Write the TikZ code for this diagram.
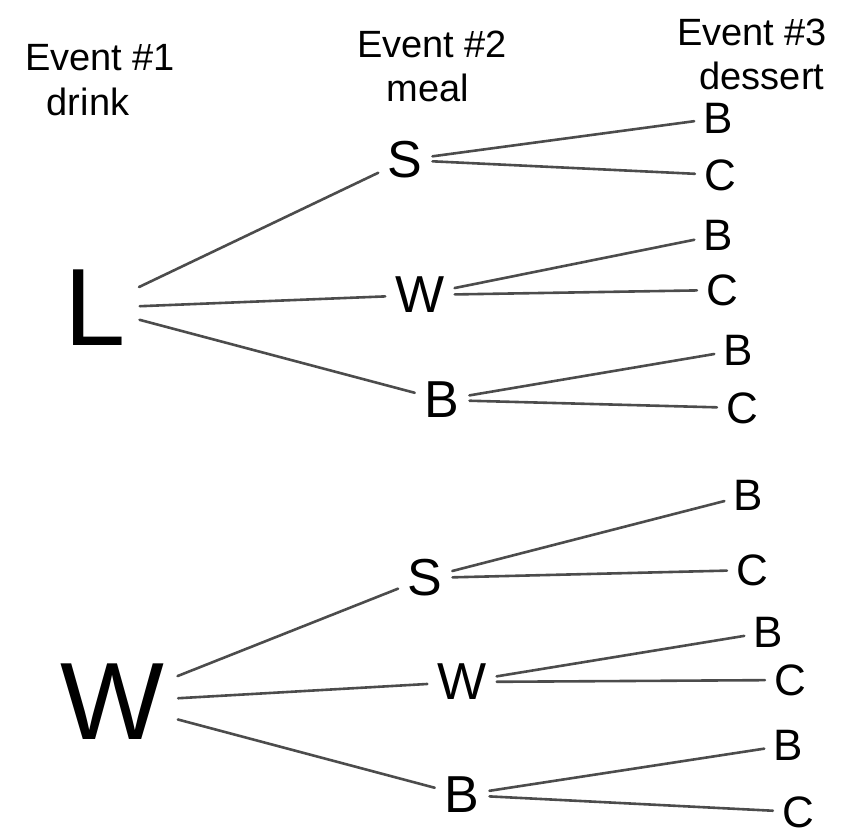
\documentclass[tikz,border=0pt]{standalone}
\usepackage{fontspec}
\setmainfont{Liberation Sans}
\begin{document}
\begin{tikzpicture}[x=1pt,y=-1pt,
  edge/.style={draw=black!70,line width=2.6pt,line cap=round,shorten <=8pt,shorten >=8pt},
  head/.style={font=\fontsize{38}{42}\selectfont,align=left,inner sep=0pt},
  big/.style={font=\fontsize{110}{110}\selectfont,inner sep=6pt},
  mid/.style={font=\fontsize{52}{52}\selectfont,inner sep=2pt},
  des/.style={font=\fontsize{44}{44}\selectfont,inner sep=1pt}]
\useasboundingbox (0,0) rectangle (864,835);
% headers
\node[head] (h1a) at (100,58) {Event \#1};
\node[head] (h1b) at (88,102) {drink};
\node[head] (h2a) at (432,44) {Event \#2};
\node[head] (h2b) at (428,88) {meal};
\node[head] (h3a) at (752,32) {Event \#3};
\node[head] (h3b) at (762,76) {dessert};
% first tree
\node[big] (L) at (95,308) {L};
\node[mid] (S1) at (405,160) {S};
\node[mid] (W1) at (420,295) {W};
\node[mid] (B1) at (442,400) {B};
\node[des] (S1b) at (718,118) {B};
\node[des] (S1c) at (720,175) {C};
\node[des] (W1b) at (718,235) {B};
\node[des] (W1c) at (722,290) {C};
\node[des] (B1b) at (738,350) {B};
\node[des] (B1c) at (742,408) {C};
\draw[edge] (L) -- (S1);
\draw[edge] (L) -- (W1);
\draw[edge] (L) -- (B1);
\draw[edge] (S1) -- (S1b);
\draw[edge] (S1) -- (S1c);
\draw[edge] (W1) -- (W1b);
\draw[edge] (W1) -- (W1c);
\draw[edge] (B1) -- (B1b);
\draw[edge] (B1) -- (B1c);
% second tree
\node[big] (W) at (112,702) {W};
\node[mid] (S2) at (425,578) {S};
\node[mid] (W2) at (462,682) {W};
\node[mid] (B2) at (462,795) {B};
\node[des] (S2b) at (748,495) {B};
\node[des] (S2c) at (752,570) {C};
\node[des] (W2b) at (768,632) {B};
\node[des] (W2c) at (790,680) {C};
\node[des] (B2b) at (788,745) {B};
\node[des] (B2c) at (798,812) {C};
\draw[edge] (W) -- (S2);
\draw[edge] (W) -- (W2);
\draw[edge] (W) -- (B2);
\draw[edge] (S2) -- (S2b);
\draw[edge] (S2) -- (S2c);
\draw[edge] (W2) -- (W2b);
\draw[edge] (W2) -- (W2c);
\draw[edge] (B2) -- (B2b);
\draw[edge] (B2) -- (B2c);
\end{tikzpicture}
\end{document}
